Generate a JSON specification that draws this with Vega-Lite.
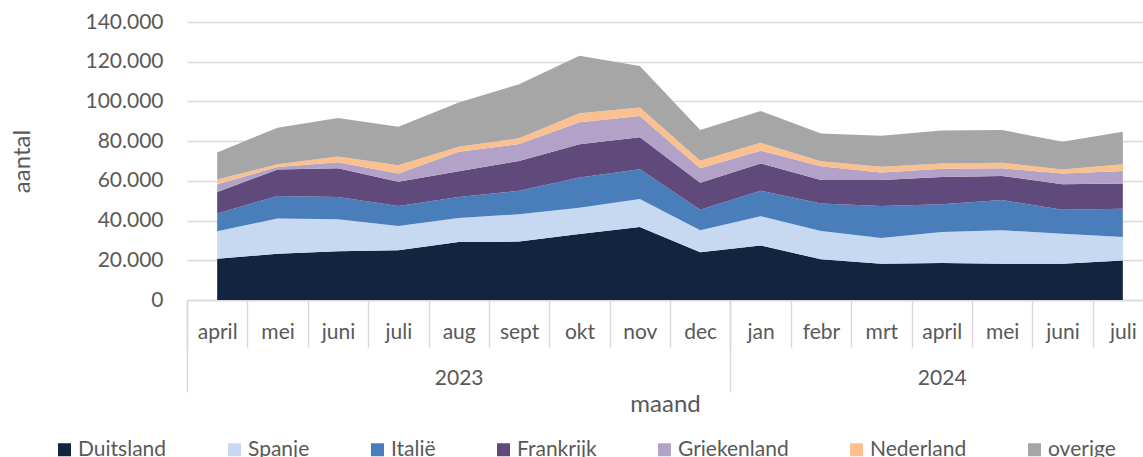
{
  "$schema": "https://vega.github.io/schema/vega-lite/v6.json",
  "autosize": {"type": "none"},
  "padding": {"left": 187, "top": 22, "right": 0, "bottom": 157},
  "width": 956,
  "height": 278,
  "background": "white",
  "config": {
    "view": {"stroke": null},
    "font": "Lato",
    "axis": {"labelFont": "Lato", "titleFont": "Lato", "labelColor": "#595959", "titleColor": "#595959", "titleFontWeight": "normal"},
    "legend": {"labelFont": "Lato"}
  },
  "datasets": {
    "landen": [
      {"land": "Duitsland", "rang": 1},
      {"land": "Spanje", "rang": 2},
      {"land": "Italië", "rang": 3},
      {"land": "Frankrijk", "rang": 4},
      {"land": "Griekenland", "rang": 5},
      {"land": "Nederland", "rang": 6},
      {"land": "overige", "rang": 7}
    ]
  },
  "data": {"values": [
    {"idx": 0, "maand": "april", "jaar": 2023, "land": "Duitsland", "aantal": 20800},
    {"idx": 0, "maand": "april", "jaar": 2023, "land": "Spanje", "aantal": 13800},
    {"idx": 0, "maand": "april", "jaar": 2023, "land": "Italië", "aantal": 8900},
    {"idx": 0, "maand": "april", "jaar": 2023, "land": "Frankrijk", "aantal": 10900},
    {"idx": 0, "maand": "april", "jaar": 2023, "land": "Griekenland", "aantal": 3900},
    {"idx": 0, "maand": "april", "jaar": 2023, "land": "Nederland", "aantal": 2400},
    {"idx": 0, "maand": "april", "jaar": 2023, "land": "overige", "aantal": 13600},
    {"idx": 1, "maand": "mei", "jaar": 2023, "land": "Duitsland", "aantal": 23300},
    {"idx": 1, "maand": "mei", "jaar": 2023, "land": "Spanje", "aantal": 17700},
    {"idx": 1, "maand": "mei", "jaar": 2023, "land": "Italië", "aantal": 11400},
    {"idx": 1, "maand": "mei", "jaar": 2023, "land": "Frankrijk", "aantal": 13300},
    {"idx": 1, "maand": "mei", "jaar": 2023, "land": "Griekenland", "aantal": 1300},
    {"idx": 1, "maand": "mei", "jaar": 2023, "land": "Nederland", "aantal": 1400},
    {"idx": 1, "maand": "mei", "jaar": 2023, "land": "overige", "aantal": 18400},
    {"idx": 2, "maand": "juni", "jaar": 2023, "land": "Duitsland", "aantal": 24600},
    {"idx": 2, "maand": "juni", "jaar": 2023, "land": "Spanje", "aantal": 16100},
    {"idx": 2, "maand": "juni", "jaar": 2023, "land": "Italië", "aantal": 11200},
    {"idx": 2, "maand": "juni", "jaar": 2023, "land": "Frankrijk", "aantal": 14400},
    {"idx": 2, "maand": "juni", "jaar": 2023, "land": "Griekenland", "aantal": 3100},
    {"idx": 2, "maand": "juni", "jaar": 2023, "land": "Nederland", "aantal": 2900},
    {"idx": 2, "maand": "juni", "jaar": 2023, "land": "overige", "aantal": 19400},
    {"idx": 3, "maand": "juli", "jaar": 2023, "land": "Duitsland", "aantal": 25000},
    {"idx": 3, "maand": "juli", "jaar": 2023, "land": "Spanje", "aantal": 12300},
    {"idx": 3, "maand": "juli", "jaar": 2023, "land": "Italië", "aantal": 10100},
    {"idx": 3, "maand": "juli", "jaar": 2023, "land": "Frankrijk", "aantal": 12100},
    {"idx": 3, "maand": "juli", "jaar": 2023, "land": "Griekenland", "aantal": 4200},
    {"idx": 3, "maand": "juli", "jaar": 2023, "land": "Nederland", "aantal": 4200},
    {"idx": 3, "maand": "juli", "jaar": 2023, "land": "overige", "aantal": 19400},
    {"idx": 4, "maand": "aug", "jaar": 2023, "land": "Duitsland", "aantal": 29200},
    {"idx": 4, "maand": "aug", "jaar": 2023, "land": "Spanje", "aantal": 12100},
    {"idx": 4, "maand": "aug", "jaar": 2023, "land": "Italië", "aantal": 10600},
    {"idx": 4, "maand": "aug", "jaar": 2023, "land": "Frankrijk", "aantal": 13000},
    {"idx": 4, "maand": "aug", "jaar": 2023, "land": "Griekenland", "aantal": 9700},
    {"idx": 4, "maand": "aug", "jaar": 2023, "land": "Nederland", "aantal": 2600},
    {"idx": 4, "maand": "aug", "jaar": 2023, "land": "overige", "aantal": 22200},
    {"idx": 5, "maand": "sept", "jaar": 2023, "land": "Duitsland", "aantal": 29400},
    {"idx": 5, "maand": "sept", "jaar": 2023, "land": "Spanje", "aantal": 13800},
    {"idx": 5, "maand": "sept", "jaar": 2023, "land": "Italië", "aantal": 11800},
    {"idx": 5, "maand": "sept", "jaar": 2023, "land": "Frankrijk", "aantal": 15000},
    {"idx": 5, "maand": "sept", "jaar": 2023, "land": "Griekenland", "aantal": 8500},
    {"idx": 5, "maand": "sept", "jaar": 2023, "land": "Nederland", "aantal": 2900},
    {"idx": 5, "maand": "sept", "jaar": 2023, "land": "overige", "aantal": 27300},
    {"idx": 6, "maand": "okt", "jaar": 2023, "land": "Duitsland", "aantal": 33300},
    {"idx": 6, "maand": "okt", "jaar": 2023, "land": "Spanje", "aantal": 13200},
    {"idx": 6, "maand": "okt", "jaar": 2023, "land": "Italië", "aantal": 15200},
    {"idx": 6, "maand": "okt", "jaar": 2023, "land": "Frankrijk", "aantal": 16750},
    {"idx": 6, "maand": "okt", "jaar": 2023, "land": "Griekenland", "aantal": 11100},
    {"idx": 6, "maand": "okt", "jaar": 2023, "land": "Nederland", "aantal": 4450},
    {"idx": 6, "maand": "okt", "jaar": 2023, "land": "overige", "aantal": 29000},
    {"idx": 7, "maand": "nov", "jaar": 2023, "land": "Duitsland", "aantal": 36800},
    {"idx": 7, "maand": "nov", "jaar": 2023, "land": "Spanje", "aantal": 14100},
    {"idx": 7, "maand": "nov", "jaar": 2023, "land": "Italië", "aantal": 15000},
    {"idx": 7, "maand": "nov", "jaar": 2023, "land": "Frankrijk", "aantal": 16000},
    {"idx": 7, "maand": "nov", "jaar": 2023, "land": "Griekenland", "aantal": 10800},
    {"idx": 7, "maand": "nov", "jaar": 2023, "land": "Nederland", "aantal": 4200},
    {"idx": 7, "maand": "nov", "jaar": 2023, "land": "overige", "aantal": 21000},
    {"idx": 8, "maand": "dec", "jaar": 2023, "land": "Duitsland", "aantal": 24100},
    {"idx": 8, "maand": "dec", "jaar": 2023, "land": "Spanje", "aantal": 11000},
    {"idx": 8, "maand": "dec", "jaar": 2023, "land": "Italië", "aantal": 10400},
    {"idx": 8, "maand": "dec", "jaar": 2023, "land": "Frankrijk", "aantal": 13500},
    {"idx": 8, "maand": "dec", "jaar": 2023, "land": "Griekenland", "aantal": 7300},
    {"idx": 8, "maand": "dec", "jaar": 2023, "land": "Nederland", "aantal": 3800},
    {"idx": 8, "maand": "dec", "jaar": 2023, "land": "overige", "aantal": 15500},
    {"idx": 9, "maand": "jan", "jaar": 2024, "land": "Duitsland", "aantal": 27500},
    {"idx": 9, "maand": "jan", "jaar": 2024, "land": "Spanje", "aantal": 14700},
    {"idx": 9, "maand": "jan", "jaar": 2024, "land": "Italië", "aantal": 12800},
    {"idx": 9, "maand": "jan", "jaar": 2024, "land": "Frankrijk", "aantal": 13800},
    {"idx": 9, "maand": "jan", "jaar": 2024, "land": "Griekenland", "aantal": 6400},
    {"idx": 9, "maand": "jan", "jaar": 2024, "land": "Nederland", "aantal": 4000},
    {"idx": 9, "maand": "jan", "jaar": 2024, "land": "overige", "aantal": 16000},
    {"idx": 10, "maand": "febr", "jaar": 2024, "land": "Duitsland", "aantal": 20500},
    {"idx": 10, "maand": "febr", "jaar": 2024, "land": "Spanje", "aantal": 14300},
    {"idx": 10, "maand": "febr", "jaar": 2024, "land": "Italië", "aantal": 13800},
    {"idx": 10, "maand": "febr", "jaar": 2024, "land": "Frankrijk", "aantal": 11800},
    {"idx": 10, "maand": "febr", "jaar": 2024, "land": "Griekenland", "aantal": 7000},
    {"idx": 10, "maand": "febr", "jaar": 2024, "land": "Nederland", "aantal": 2500},
    {"idx": 10, "maand": "febr", "jaar": 2024, "land": "overige", "aantal": 14000},
    {"idx": 11, "maand": "mrt", "jaar": 2024, "land": "Duitsland", "aantal": 18300},
    {"idx": 11, "maand": "mrt", "jaar": 2024, "land": "Spanje", "aantal": 12900},
    {"idx": 11, "maand": "mrt", "jaar": 2024, "land": "Italië", "aantal": 16200},
    {"idx": 11, "maand": "mrt", "jaar": 2024, "land": "Frankrijk", "aantal": 13000},
    {"idx": 11, "maand": "mrt", "jaar": 2024, "land": "Griekenland", "aantal": 3800},
    {"idx": 11, "maand": "mrt", "jaar": 2024, "land": "Nederland", "aantal": 2900},
    {"idx": 11, "maand": "mrt", "jaar": 2024, "land": "overige", "aantal": 15600},
    {"idx": 12, "maand": "april", "jaar": 2024, "land": "Duitsland", "aantal": 18600},
    {"idx": 12, "maand": "april", "jaar": 2024, "land": "Spanje", "aantal": 15600},
    {"idx": 12, "maand": "april", "jaar": 2024, "land": "Italië", "aantal": 14000},
    {"idx": 12, "maand": "april", "jaar": 2024, "land": "Frankrijk", "aantal": 13800},
    {"idx": 12, "maand": "april", "jaar": 2024, "land": "Griekenland", "aantal": 4100},
    {"idx": 12, "maand": "april", "jaar": 2024, "land": "Nederland", "aantal": 2700},
    {"idx": 12, "maand": "april", "jaar": 2024, "land": "overige", "aantal": 16500},
    {"idx": 13, "maand": "mei", "jaar": 2024, "land": "Duitsland", "aantal": 18300},
    {"idx": 13, "maand": "mei", "jaar": 2024, "land": "Spanje", "aantal": 16800},
    {"idx": 13, "maand": "mei", "jaar": 2024, "land": "Italië", "aantal": 15200},
    {"idx": 13, "maand": "mei", "jaar": 2024, "land": "Frankrijk", "aantal": 12200},
    {"idx": 13, "maand": "mei", "jaar": 2024, "land": "Griekenland", "aantal": 3800},
    {"idx": 13, "maand": "mei", "jaar": 2024, "land": "Nederland", "aantal": 2800},
    {"idx": 13, "maand": "mei", "jaar": 2024, "land": "overige", "aantal": 16500},
    {"idx": 14, "maand": "juni", "jaar": 2024, "land": "Duitsland", "aantal": 18300},
    {"idx": 14, "maand": "juni", "jaar": 2024, "land": "Spanje", "aantal": 15100},
    {"idx": 14, "maand": "juni", "jaar": 2024, "land": "Italië", "aantal": 12100},
    {"idx": 14, "maand": "juni", "jaar": 2024, "land": "Frankrijk", "aantal": 12800},
    {"idx": 14, "maand": "juni", "jaar": 2024, "land": "Griekenland", "aantal": 5400},
    {"idx": 14, "maand": "juni", "jaar": 2024, "land": "Nederland", "aantal": 2000},
    {"idx": 14, "maand": "juni", "jaar": 2024, "land": "overige", "aantal": 14000},
    {"idx": 15, "maand": "juli", "jaar": 2024, "land": "Duitsland", "aantal": 19900},
    {"idx": 15, "maand": "juli", "jaar": 2024, "land": "Spanje", "aantal": 11800},
    {"idx": 15, "maand": "juli", "jaar": 2024, "land": "Italië", "aantal": 14300},
    {"idx": 15, "maand": "juli", "jaar": 2024, "land": "Frankrijk", "aantal": 12700},
    {"idx": 15, "maand": "juli", "jaar": 2024, "land": "Griekenland", "aantal": 6300},
    {"idx": 15, "maand": "juli", "jaar": 2024, "land": "Nederland", "aantal": 3400},
    {"idx": 15, "maand": "juli", "jaar": 2024, "land": "overige", "aantal": 16300}
  ]},
  "transform": [
    {"lookup": "land", "from": {"data": {"name": "landen"}, "key": "land", "fields": ["rang"]}}
  ],
  "resolve": {"axis": {"x": "independent"}},
  "layer": [
    {
      "mark": {"type": "area", "strokeWidth": 0},
      "encoding": {
        "x": {
          "field": "idx", "type": "quantitative",
          "scale": {"domain": [-0.5, 15.334], "nice": false, "zero": false},
          "axis": {
            "orient": "bottom", "values": [0,1,2,3,4,5,6,7,8,9,10,11,12,13,14,15],
            "labelExpr": "['april','mei','juni','juli','aug','sept','okt','nov','dec','jan','febr','mrt','april','mei','juni','juli'][datum.value]",
            "ticks": false, "tickSize": 0, "domain": true, "domainColor": "#D9D9D9", "domainWidth": 1.5,
            "grid": false, "labelFontSize": 21, "labelBaseline": "middle", "labelPadding": 32,
            "labelFlush": false, "labelOverlap": false, "title": null
          }
        },
        "y": {
          "field": "aantal", "type": "quantitative", "stack": "zero",
          "scale": {"domain": [0, 140000], "nice": false},
          "axis": {
            "values": [0, 20000, 40000, 60000, 80000, 100000, 120000, 140000],
            "labelExpr": "replace(format(datum.value, ','), regexp(',', 'g'), '.')",
            "domain": false, "ticks": false, "grid": true, "gridColor": "#D9D9D9", "gridWidth": 1.5,
            "labelFontSize": 21, "labelPadding": 24, "labelBaseline": "middle",
            "title": "aantal", "titleFontSize": 24, "titlePadding": 50
          }
        },
        "order": {"field": "rang", "type": "quantitative", "sort": "ascending"},
        "color": {
          "field": "land", "type": "nominal",
          "scale": {
            "domain": ["Duitsland", "Spanje", "Italië", "Frankrijk", "Griekenland", "Nederland", "overige"],
            "range": ["#12243F", "#C6D9F1", "#4A7EBB", "#604A7B", "#B3A2C7", "#FAC090", "#A6A6A6"]
          },
          "legend": {
            "orient": "none", "legendX": -133, "legendY": 417, "direction": "horizontal", "columns": 7,
            "columnPadding": 57, "title": null, "symbolType": "square", "symbolSize": 169,
            "symbolStrokeWidth": 0, "symbolOpacity": 1, "labelFontSize": 21, "labelColor": "#595959",
            "labelOffset": 3, "labelLimit": 300
          }
        }
      }
    },
    {
      "mark": {"type": "rule", "strokeOpacity": 0},
      "encoding": {
        "x": {
          "field": "idx", "type": "quantitative",
          "axis": {
            "orient": "bottom", "values": [-0.5,0.5,1.5,2.5,3.5,4.5,5.5,6.5,7.5,8.5,9.5,10.5,11.5,12.5,13.5,14.5],
            "labels": false, "domain": false, "grid": false, "ticks": true, "tickSize": 47,
            "tickColor": "#D9D9D9", "tickWidth": 1.5, "title": null
          }
        }
      }
    },
    {
      "mark": {"type": "rule", "strokeOpacity": 0},
      "encoding": {
        "x": {
          "field": "idx", "type": "quantitative",
          "axis": {
            "orient": "bottom", "values": [-0.5, 8.5],
            "labels": false, "domain": false, "grid": false, "ticks": true, "tickSize": 92,
            "tickColor": "#D9D9D9", "tickWidth": 1.5, "title": null
          }
        }
      }
    },
    {
      "mark": {"type": "rule", "strokeOpacity": 0},
      "encoding": {
        "x": {
          "field": "idx", "type": "quantitative",
          "axis": {
            "orient": "bottom", "values": [4, 12],
            "labelExpr": "datum.value == 4 ? '2023' : '2024'",
            "domain": false, "grid": false, "ticks": false, "tickSize": 0,
            "labelFontSize": 21, "labelBaseline": "middle", "labelPadding": 78, "labelFlush": false,
            "title": "maand", "titleFontSize": 24, "titlePadding": 4
          }
        }
      }
    }
  ]
}
